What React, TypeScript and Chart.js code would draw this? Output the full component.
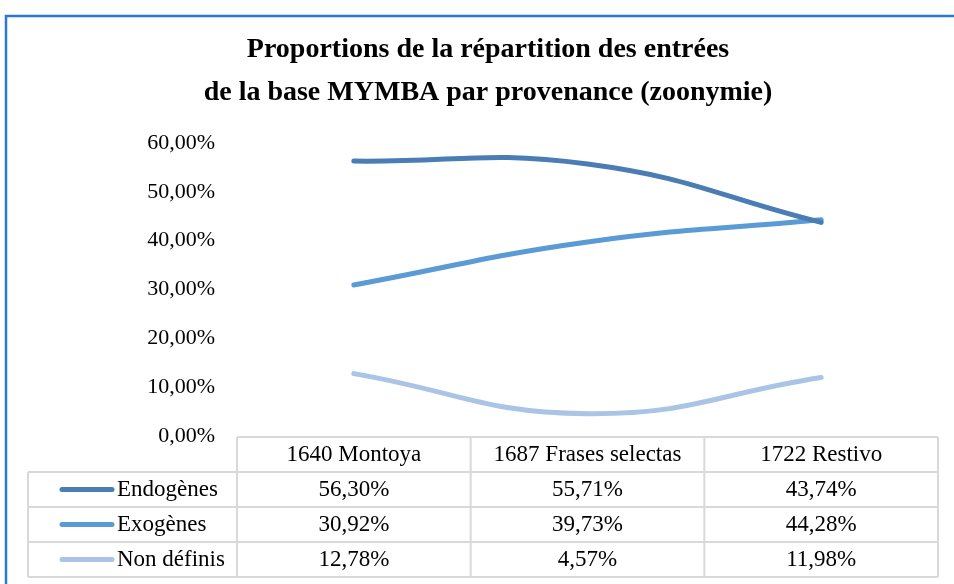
import React, { useEffect, useRef } from "react";
import { Chart, registerables } from "chart.js";

Chart.register(...registerables);

const TITLE_LINES = [
  "Proportions de la répartition des entrées",
  "de la base MYMBA par provenance (zoonymie)",
];
const CATEGORIES = ["1640 Montoya", "1687 Frases selectas", "1722 Restivo"];
const SERIES_NAMES = ["Endogènes", "Exogènes", "Non définis"];
const ENDOGENES = [56.3, 55.71, 43.74];
const EXOGENES = [30.92, 39.73, 44.28];
const NON_DEFINIS = [12.78, 4.57, 11.98];
const SERIES_COLORS = ["#4a7db4", "#5b9bd5", "#aac4e5"];
const Y_MIN = 0;
const Y_MAX = 60;
const Y_STEP = 10;

const SERIF = "'Liberation Serif', 'Times New Roman', serif";

const fmtPct = (v: number) => v.toFixed(2).replace(".", ",") + "%";

export default function App() {
  const ref = useRef<HTMLCanvasElement | null>(null);

  useEffect(() => {
    if (!ref.current) return;
    const seriesData = [ENDOGENES, EXOGENES, NON_DEFINIS];

    const decorPlugin = {
      id: "decor",
      beforeDraw(chart: any) {
        const ctx = chart.ctx;
        ctx.save();
        ctx.fillStyle = "#ffffff";
        ctx.fillRect(0, 0, chart.width, chart.height);
        ctx.restore();
      },
      afterDraw(chart: any) {
        const ctx = chart.ctx;
        const area = chart.chartArea;
        const xs = chart.scales.x;
        ctx.save();
        // outer border (cropped frame)
        ctx.strokeStyle = "#2a7bd0";
        ctx.lineWidth = 2.5;
        ctx.beginPath();
        ctx.moveTo(6, chart.height + 5);
        ctx.lineTo(6, 16);
        ctx.lineTo(chart.width + 5, 16);
        ctx.stroke();

        // title
        ctx.fillStyle = "#000000";
        ctx.font = "bold 28px " + SERIF;
        ctx.textAlign = "center";
        ctx.textBaseline = "middle";
        ctx.fillText(TITLE_LINES[0], 488, 50);
        ctx.fillText(TITLE_LINES[1], 488, 93);

        // data table
        const n = CATEGORIES.length;
        const band = (area.right - area.left) / n;
        const rowH = 35;
        const top = area.bottom + 1;
        const tableLeft = 28;
        const bottom = top + rowH * 4;
        ctx.strokeStyle = "#d9d9d9";
        ctx.lineWidth = 2;
        ctx.beginPath();
        ctx.moveTo(area.left, top);
        ctx.lineTo(area.right, top);
        for (let r = 1; r <= 4; r++) {
          ctx.moveTo(tableLeft, top + rowH * r);
          ctx.lineTo(area.right, top + rowH * r);
        }
        ctx.moveTo(tableLeft, top + rowH);
        ctx.lineTo(tableLeft, bottom);
        for (let i = 0; i <= n; i++) {
          const x = area.left + band * i;
          ctx.moveTo(x, top);
          ctx.lineTo(x, bottom);
        }
        ctx.stroke();

        ctx.fillStyle = "#000000";
        ctx.font = "23px " + SERIF;
        ctx.textAlign = "center";
        ctx.textBaseline = "middle";
        for (let i = 0; i < n; i++) {
          const cx = xs.getPixelForValue(i);
          ctx.fillText(CATEGORIES[i], cx, top + rowH / 2);
          for (let s = 0; s < seriesData.length; s++) {
            ctx.fillText(fmtPct(seriesData[s][i]), cx, top + rowH * (s + 1.5));
          }
        }
        for (let s = 0; s < SERIES_NAMES.length; s++) {
          const cy = top + rowH * (s + 1.5);
          ctx.strokeStyle = SERIES_COLORS[s];
          ctx.lineWidth = 5;
          ctx.lineCap = "round";
          ctx.beginPath();
          ctx.moveTo(62, cy);
          ctx.lineTo(112, cy);
          ctx.stroke();
          ctx.textAlign = "left";
          ctx.fillText(SERIES_NAMES[s], 117, cy);
        }
        ctx.restore();
      },
    };

    const chart = new Chart(ref.current, {
      type: "line",
      data: {
        labels: CATEGORIES,
        datasets: SERIES_NAMES.map((name, i) => ({
          label: name,
          data: seriesData[i],
          borderColor: SERIES_COLORS[i],
          backgroundColor: SERIES_COLORS[i],
          borderWidth: 5,
          borderCapStyle: "round",
          pointRadius: 0,
          tension: 0.45,
          fill: false,
        })),
      },
      options: {
        responsive: false,
        animation: false,
        layout: { padding: { left: 0, right: 16, top: 143, bottom: 148 } },
        plugins: {
          legend: { display: false },
          title: { display: false },
          tooltip: { enabled: false },
        },
        scales: {
          x: {
            type: "category",
            display: false,
            offset: true,
          },
          y: {
            min: Y_MIN,
            max: Y_MAX,
            grid: { display: false },
            border: { display: false },
            ticks: {
              stepSize: Y_STEP,
              padding: 14,
              color: "#000000",
              font: { family: SERIF, size: 22 },
              callback: (v: any) => fmtPct(Number(v)),
            },
            afterFit(scale: any) {
              scale.width = 237;
            },
          },
        },
      },
      plugins: [decorPlugin],
    });
    return () => chart.destroy();
  }, []);

  return (
    <div style={{ position: "absolute", left: 0, top: 0, width: 954, height: 584 }}>
      <canvas ref={ref} width={954} height={584} style={{ display: "block" }} />
    </div>
  );
}
